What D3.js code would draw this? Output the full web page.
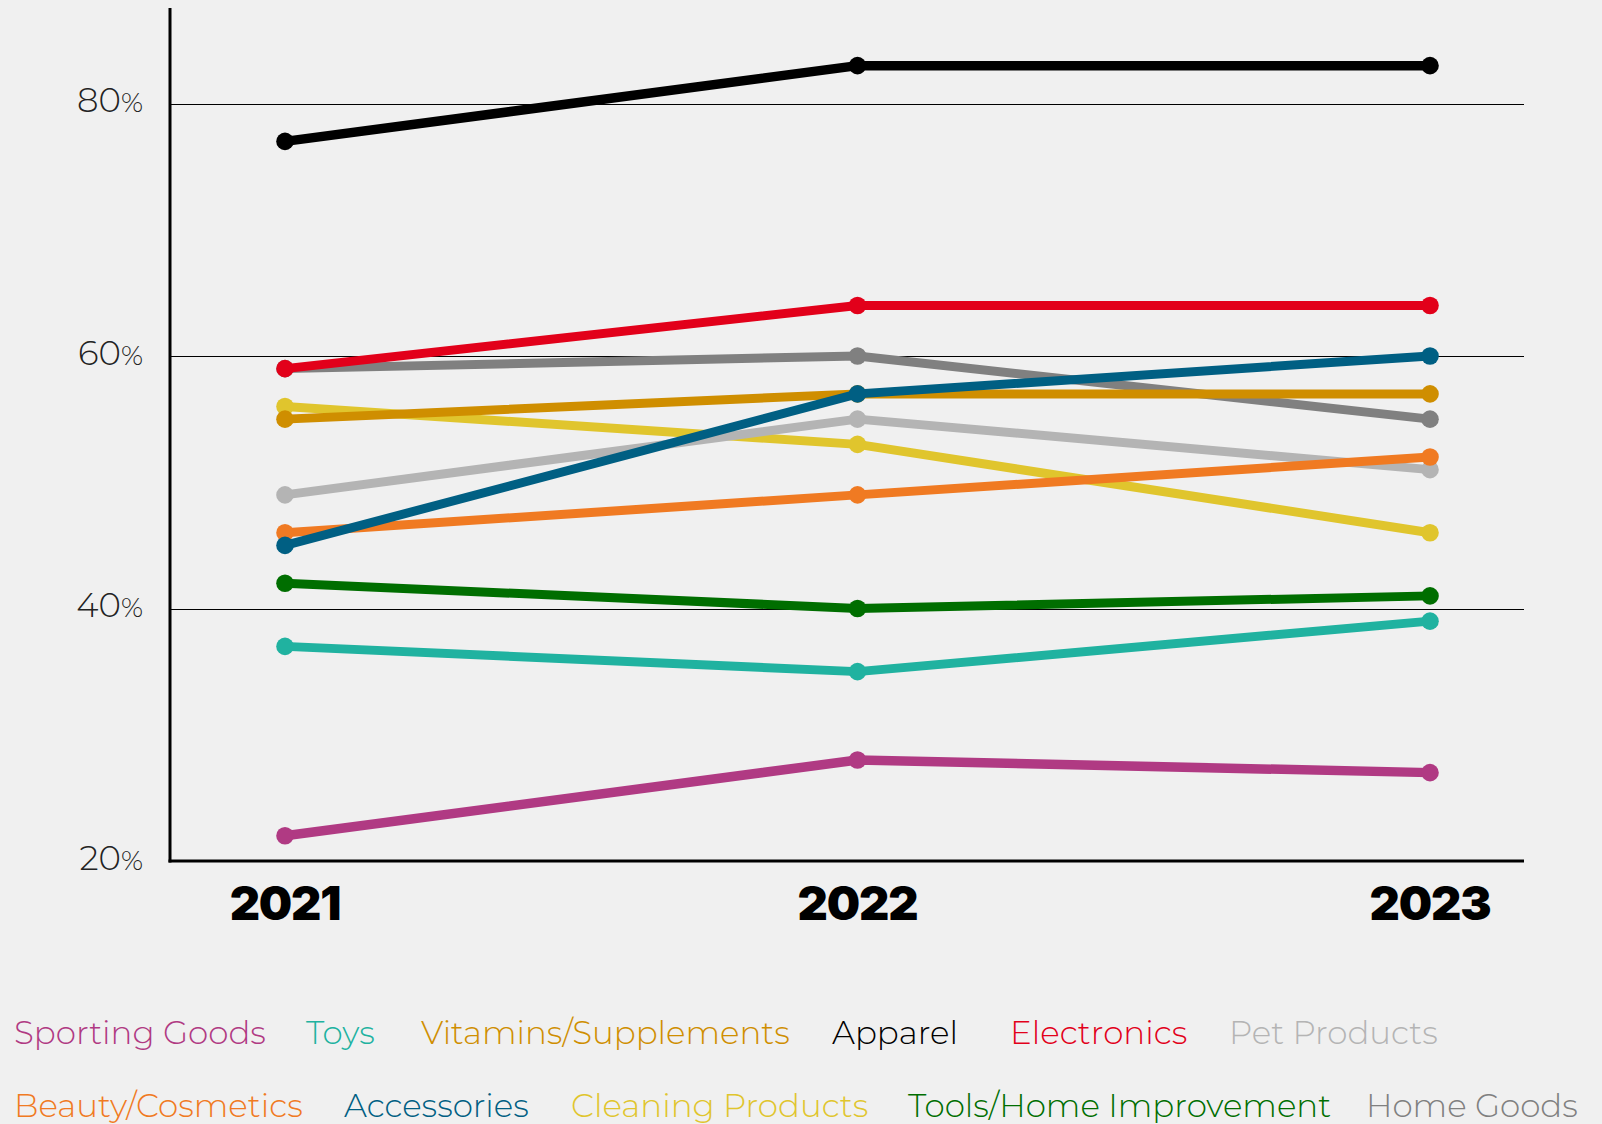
<!DOCTYPE html>
<html>
<head>
<meta charset="utf-8">
<script src="https://cdn.jsdelivr.net/npm/d3@7"></script>
<style>
  html, body { margin: 0; padding: 0; background: #f0f0f0; }
  svg { display: block; }
</style>
</head>
<body>
<svg id="chart" width="1602" height="1124"></svg>
<script>
// Share of shoppers by product category, 2021–2023 (percent)
const years = ["2021", "2022", "2023"];
const yTicks = [20, 40, 60, 80];

const categories = [
  "Sporting Goods", "Toys", "Vitamins/Supplements", "Apparel", "Electronics",
  "Pet Products", "Beauty/Cosmetics", "Accessories", "Cleaning Products",
  "Tools/Home Improvement", "Home Goods"
];
const colors = [
  "#b03a83", "#20b2a0", "#cf8e00", "#000000", "#e2001a",
  "#b4b4b4", "#f07a22", "#005f83", "#e0c52d",
  "#006e00", "#808080"
];

const sportingGoods = [22, 28, 27];
const toys = [37, 35, 39];
const vitamins = [55, 57, 57];
const apparel = [77, 83, 83];
const electronics = [59, 64, 64];
const petProducts = [49, 55, 51];
const beauty = [46, 49, 52];
const accessories = [45, 57, 60];
const cleaning = [56, 53, 46];
const tools = [42, 40, 41];
const homeGoods = [59, 60, 55];

const values = [sportingGoods, toys, vitamins, apparel, electronics, petProducts,
  beauty, accessories, cleaning, tools, homeGoods];

// paint order, back to front
const drawOrder = ["Home Goods", "Cleaning Products", "Pet Products", "Beauty/Cosmetics",
  "Tools/Home Improvement", "Toys", "Vitamins/Supplements", "Accessories",
  "Electronics", "Apparel", "Sporting Goods"];

// legend layout: two rows
const legendRows = [
  ["Sporting Goods", "Toys", "Vitamins/Supplements", "Apparel", "Electronics", "Pet Products"],
  ["Beauty/Cosmetics", "Accessories", "Cleaning Products", "Tools/Home Improvement", "Home Goods"]
];
const legendX = {
  "Sporting Goods": 14, "Toys": 306, "Vitamins/Supplements": 421, "Apparel": 832,
  "Electronics": 1010, "Pet Products": 1229,
  "Beauty/Cosmetics": 14, "Accessories": 344, "Cleaning Products": 571,
  "Tools/Home Improvement": 908, "Home Goods": 1366
};

const svg = d3.select("#chart");
const font = "Montserrat, Inter, 'Open Sans', sans-serif";

const x = d3.scalePoint().domain(years).range([285, 1430]);
const y = d3.scaleLinear().domain([20, 80]).range([861, 103.5]);

const plotLeft = 170, plotRight = 1524, plotTop = 8;

// gridlines
svg.append("g")
  .selectAll("line")
  .data(yTicks.filter(d => d > 20))
  .join("line")
  .attr("x1", plotLeft).attr("x2", plotRight)
  .attr("y1", d => Math.round(y(d)) + 0.5).attr("y2", d => Math.round(y(d)) + 0.5)
  .attr("stroke", "#000").attr("stroke-width", 1.2);

// y tick labels
const yl = svg.append("g")
  .selectAll("text")
  .data(yTicks)
  .join("text")
  .attr("x", 143)
  .attr("y", d => y(d) + 8.5)
  .attr("text-anchor", "end")
  .attr("font-family", font)
  .attr("font-weight", 300)
  .attr("font-size", 34)
  .attr("fill", "#222");
yl.append("tspan").text(d => d);
yl.append("tspan").attr("font-size", 27).text("%");

// axes lines
svg.append("line")
  .attr("x1", plotLeft).attr("x2", plotLeft)
  .attr("y1", plotTop).attr("y2", y(20) + 1.5)
  .attr("stroke", "#000").attr("stroke-width", 3);
svg.append("line")
  .attr("x1", plotLeft - 1.5).attr("x2", plotRight)
  .attr("y1", y(20)).attr("y2", y(20))
  .attr("stroke", "#000").attr("stroke-width", 3);

// year labels
svg.append("g")
  .selectAll("text")
  .data(years)
  .join("text")
  .attr("x", d => x(d))
  .attr("y", 920)
  .attr("text-anchor", "middle")
  .attr("font-family", "Inter, 'Open Sans', sans-serif")
  .attr("font-weight", 900)
  .attr("font-size", 47)
  .attr("letter-spacing", -1.2)
  .attr("fill", "#000")
  .text(d => d);

// series
const series = categories.map((c, i) => ({
  name: c, color: colors[i],
  points: years.map((yr, j) => ({ year: yr, value: values[i][j] }))
}));
const ordered = drawOrder.map(n => series.find(s => s.name === n));

const line = d3.line().x(d => x(d.year)).y(d => y(d.value));

const g = svg.append("g")
  .selectAll("g")
  .data(ordered)
  .join("g");

g.append("path")
  .attr("d", d => line(d.points))
  .attr("fill", "none")
  .attr("stroke", d => d.color)
  .attr("stroke-width", d => (d.name === "Apparel" || d.name === "Sporting Goods") ? 9.5 : 9)
  .attr("stroke-linejoin", "round");

g.selectAll("circle")
  .data(d => d.points.map(p => ({ ...p, color: d.color })))
  .join("circle")
  .attr("cx", d => x(d.year))
  .attr("cy", d => y(d.value))
  .attr("r", 8.8)
  .attr("fill", d => d.color);

// legend
legendRows.forEach((row, r) => {
  svg.append("g")
    .selectAll("text")
    .data(row)
    .join("text")
    .attr("x", d => legendX[d])
    .attr("y", r === 0 ? 1044 : 1117)
    .attr("font-family", font)
    .attr("font-weight", 300)
    .attr("font-size", 32.5)
    .attr("fill", d => colors[categories.indexOf(d)])
    .text(d => d);
});
</script>
</body>
</html>
